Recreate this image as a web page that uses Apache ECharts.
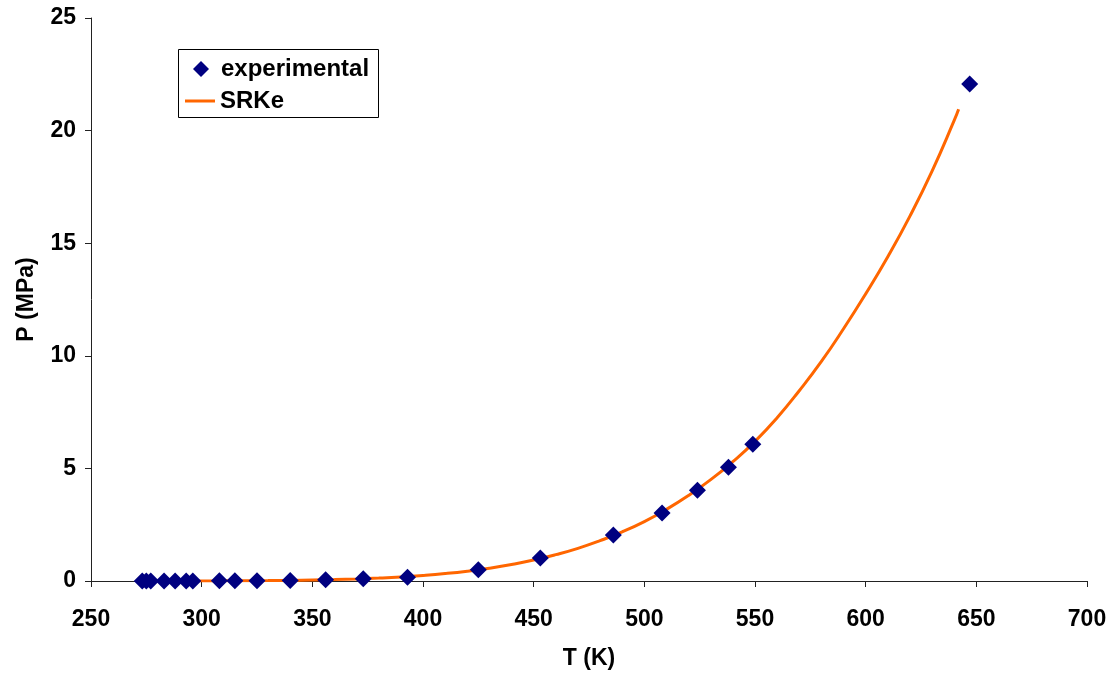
<!DOCTYPE html>
<html><head><meta charset="utf-8">
<script src="https://cdn.jsdelivr.net/npm/echarts@6/dist/echarts.min.js"></script>
<style>html,body{margin:0;padding:0;background:#fff}#c{width:1113px;height:675px}</style>
</head><body><div id="c"></div>
<script>
const expT = [273.16, 275, 277, 283, 288, 293, 296, 308, 315, 325, 340, 356, 373, 393, 425, 453, 486, 508, 524, 538, 549, 647];
const expP = [0.0006, 0.0007, 0.0008, 0.0012, 0.0017, 0.0023, 0.0028, 0.0056, 0.0082, 0.0134, 0.027, 0.05, 0.1, 0.17, 0.5, 1.02, 2.04, 3.02, 4.03, 5.05, 6.07, 22.07];
const srkT = [273, 280, 290, 300, 310, 320, 330, 340, 350, 360, 370, 380, 390, 400, 410, 420, 430, 440, 450, 460, 470, 480, 490, 500, 510, 520, 530, 540, 550, 560, 570, 580, 590, 600, 610, 620, 630, 640, 642];
const srkP = [0.0006, 0.001, 0.0019, 0.0035, 0.0062, 0.0106, 0.0172, 0.0272, 0.0417, 0.0622, 0.0903, 0.128, 0.178, 0.245, 0.33, 0.437, 0.57, 0.733, 0.93, 1.17, 1.45, 1.79, 2.18, 2.64, 3.18, 3.8, 4.5, 5.3, 6.2, 7.25, 8.45, 9.75, 11.2, 12.75, 14.4, 16.2, 18.2, 20.45, 20.95];
const xTicks = [250, 700, 50];
const yTicks = [0, 25, 5];

const F = 'Liberation Sans, Arial, sans-serif';
const txt = {fontFamily: F, fontWeight: 'bold', fontSize: 23, color: '#000'};
const chart = echarts.init(document.getElementById('c'));
chart.setOption({
  backgroundColor: '#fff',
  animation: false,
  grid: {left: 91, right: 26, top: 18, bottom: 93},
  graphic: [{
    type: 'rect', left: 178, top: 49, z: 0,
    shape: {width: 200, height: 68},
    style: {fill: '#fff', stroke: '#000', lineWidth: 1}
  }],
  legend: [
    {
      left: 193, top: 57, padding: 0,
      itemWidth: 16, itemHeight: 16,
      textStyle: Object.assign({}, txt, {fontSize: 24, padding: [0, 0, 0, 7]}),
      data: [{name: 'experimental', icon: 'diamond'}]
    },
    {
      left: 185, top: 89, padding: 0,
      itemWidth: 30, itemHeight: 3,
      textStyle: Object.assign({}, txt, {fontSize: 24}),
      data: [{name: 'SRKe', icon: 'rect'}]
    }
  ],
  xAxis: {
    type: 'value', min: xTicks[0], max: xTicks[1], interval: xTicks[2],
    name: 'T (K)', nameLocation: 'middle', nameGap: 66,
    nameTextStyle: txt,
    axisLine: {onZero: false, lineStyle: {color: '#222', width: 1}},
    axisTick: {show: true, length: 6, lineStyle: {color: '#222'}},
    axisLabel: Object.assign({margin: 27}, txt),
    splitLine: {show: false}
  },
  yAxis: {
    type: 'value', min: yTicks[0], max: yTicks[1], interval: yTicks[2],
    name: 'P (MPa)', nameLocation: 'middle', nameGap: 53, nameRotate: 90,
    nameTextStyle: txt,
    axisLine: {show: true, onZero: false, lineStyle: {color: '#222', width: 1}},
    axisTick: {show: true, length: 6, lineStyle: {color: '#222'}},
    axisLabel: Object.assign({margin: 15}, txt),
    splitLine: {show: false}
  },
  series: [
    {
      name: 'SRKe', type: 'line', symbol: 'none', smooth: true, z: 2,
      lineStyle: {color: '#FF6600', width: 3},
      itemStyle: {color: '#FF6600'},
      data: srkT.map((t, i) => [t, srkP[i]])
    },
    {
      name: 'experimental', type: 'scatter', symbol: 'diamond', symbolSize: [17, 17], z: 3,
      itemStyle: {color: '#000080', opacity: 1},
      data: expT.map((t, i) => [t, expP[i]])
    }
  ]
});
</script></body></html>
